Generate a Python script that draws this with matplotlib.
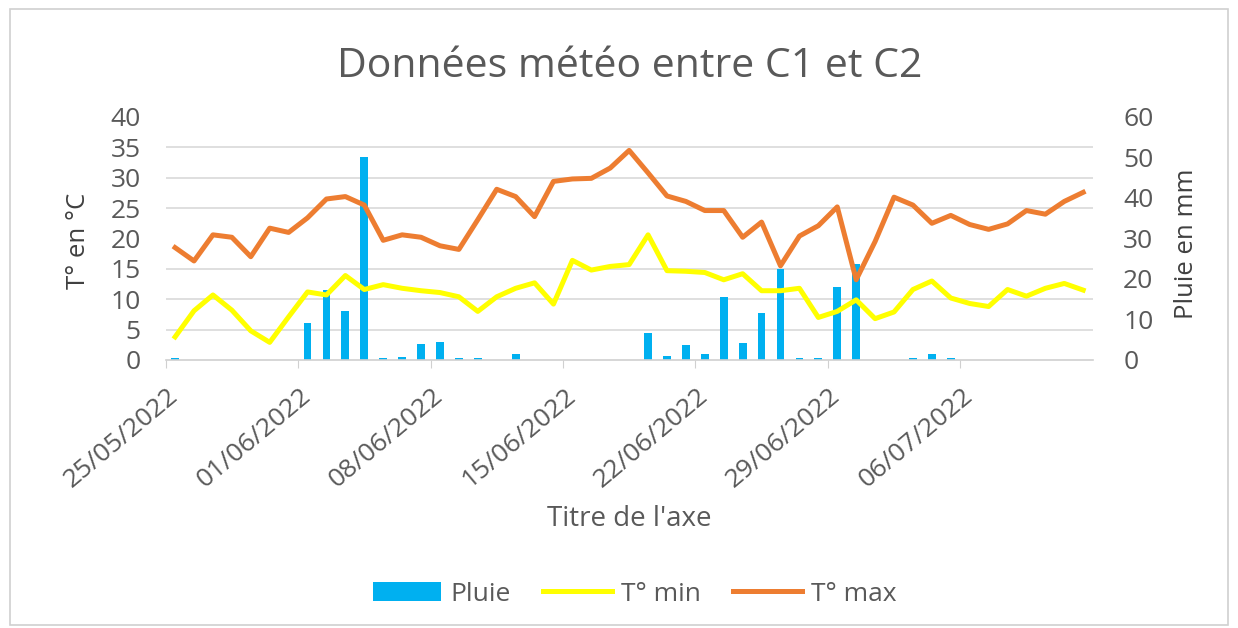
import numpy as np
import pandas as pd
import matplotlib
matplotlib.use("Agg")
import matplotlib.pyplot as plt
import matplotlib.transforms as mtransforms
from matplotlib.ticker import MultipleLocator
from matplotlib.patches import Rectangle

plt.rcParams["font.family"] = ["Open Sans", "DejaVu Sans"]

dates = pd.date_range("2022-05-25", periods=49, freq="D")

t_max = [18.5, 16.3, 20.6, 20.2, 17.0, 21.7, 21.0, 23.4, 26.5, 26.9,
         25.5, 19.7, 20.6, 20.2, 18.8, 18.2, 23.1, 28.1, 26.9, 23.6,
         29.4, 29.8, 29.9, 31.6, 34.5, 30.8, 27.0, 26.1, 24.6, 24.6,
         20.2, 22.7, 15.5, 20.4, 22.1, 25.2, 13.2, 19.5, 26.8, 25.5,
         22.5, 23.8, 22.3, 21.5, 22.4, 24.6, 24.0, 26.1, 27.6]

t_min = [3.8, 8.1, 10.7, 8.2, 4.8, 2.9, 7.1, 11.2, 10.7, 13.9,
         11.6, 12.4, 11.8, 11.4, 11.1, 10.4, 8.0, 10.4, 11.8, 12.7,
         9.2, 16.4, 14.8, 15.4, 15.7, 20.6, 14.7, 14.6, 14.4, 13.2,
         14.2, 11.4, 11.4, 11.8, 7.0, 8.0, 9.9, 6.8, 7.9, 11.6,
         13.0, 10.2, 9.3, 8.8, 11.6, 10.5, 11.8, 12.6, 11.5]

pluie = [0.4, 0, 0, 0, 0, 0, 0, 9.1, 17.3, 12.2,
         50.0, 0.4, 0.7, 3.9, 4.5, 0.4, 0.4, 0, 1.4, 0,
         0, 0, 0, 0, 0, 6.6, 1.0, 3.7, 1.4, 15.5,
         4.1, 11.5, 22.4, 0.4, 0.4, 18.0, 23.7, 0, 0, 0.4,
         1.4, 0.4, 0, 0, 0, 0, 0, 0, 0]

grey = "#595959"
half_day = pd.Timedelta(hours=12)

fig = plt.figure(figsize=(12.38, 6.28), dpi=100)
fig.patches.append(Rectangle((0.008, 0.005), 0.984, 0.98, transform=fig.transFigure,
                             fill=False, edgecolor="#d0d0d0", linewidth=1.2))

ax = fig.add_axes([0.1338, 0.4268, 0.7488, 0.3869])
ax2 = ax.twinx()
ax.set_zorder(ax2.get_zorder() + 1)
ax.patch.set_visible(False)

ax2.bar(dates, pluie, width=0.41, color="#00B0F0", label="Pluie")
ax.plot(dates, t_min, color="#FFFF00", linewidth=3.6, label="T° min")
ax.plot(dates, t_max, color="#ED7D31", linewidth=3.6, label="T° max")

ax.set_ylim(0, 40)
ax2.set_ylim(0, 60)
ax.set_xlim(dates[0] - half_day, dates[-1] + half_day)

ax.yaxis.set_major_locator(MultipleLocator(5))
ax2.yaxis.set_major_locator(MultipleLocator(10))
ax2.yaxis.set_minor_locator(MultipleLocator(7.5))
ax2.grid(which="minor", axis="y", color="#d9d9d9", linewidth=1.2)
ax2.set_axisbelow(True)
ax2.tick_params(axis="y", which="minor", length=0)

for a in (ax, ax2):
    for s in ("left", "right", "top"):
        a.spines[s].set_visible(False)
ax2.spines["bottom"].set_visible(False)
ax.spines["bottom"].set_color("#d0d0d0")
ax.spines["bottom"].set_linewidth(1.2)

ax.tick_params(axis="x", length=6, color="#d0d0d0", labelsize=19, labelcolor=grey, pad=0)
ax.tick_params(axis="y", length=0, labelsize=19, labelcolor=grey, pad=18)
ax2.tick_params(axis="y", which="major", length=0, labelsize=19, labelcolor=grey, pad=22)

tick_pos = dates[::7] - half_day
ax.set_xticks(tick_pos)
ax.set_xticklabels(dates[::7].strftime("%d/%m/%Y"), rotation=40, ha="right",
                   va="center", rotation_mode="anchor")
shift = mtransforms.ScaledTranslation(6.8 / 72, -18 / 72, fig.dpi_scale_trans)
for lab in ax.get_xticklabels():
    lab.set_transform(lab.get_transform() + shift)

ax.set_ylabel("T° en °C", fontsize=18.5, color="#404040")
ax.yaxis.set_label_coords(-0.08, 0.49)
ax2.set_ylabel("Pluie en mm", fontsize=18.5, color="#404040")
ax2.yaxis.set_label_coords(1.088, 0.48)
ax.set_xlabel("Titre de l'axe", fontsize=20, color=grey)
ax.xaxis.set_label_coords(0.5, -0.595)

fig.text(0.5089, 0.878, "Données météo entre C1 et C2", fontsize=29.5, color=grey,
         ha="center", va="baseline")

h1, l1 = ax2.get_legend_handles_labels()
h2, l2 = ax.get_legend_handles_labels()
fig.legend(h1 + h2, l1 + l2, loc="center", bbox_to_anchor=(0.5125, 0.054), ncol=3,
           frameon=False, fontsize=19, labelcolor=grey, handlelength=2.6,
           handletextpad=0.33, columnspacing=1.25)

fig.savefig("out.png", dpi=100)
